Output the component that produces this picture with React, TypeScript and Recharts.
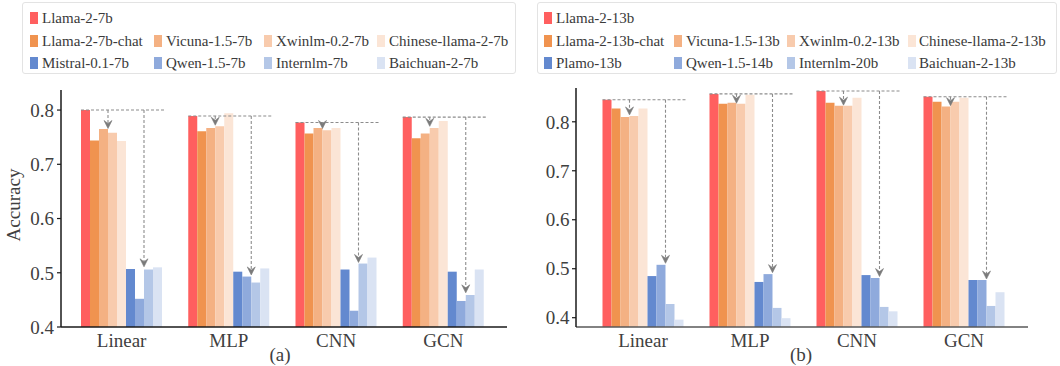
import React from 'react';
import { BarChart, Bar, XAxis, YAxis } from 'recharts';

const FONT = '"Liberation Serif", "Times New Roman", serif';

const categories = ['Linear', 'MLP', 'CNN', 'GCN'];

// (a) 7b models
const models7b = ['Llama-2-7b', 'Llama-2-7b-chat', 'Vicuna-1.5-7b', 'Xwinlm-0.2-7b', 'Chinese-llama-2-7b', 'Mistral-0.1-7b', 'Qwen-1.5-7b', 'Internlm-7b', 'Baichuan-2-7b'];
const llama7b = [0.800, 0.789, 0.777, 0.787];
const llama7bChat = [0.744, 0.761, 0.757, 0.748];
const vicuna7b = [0.765, 0.767, 0.767, 0.757];
const xwin7b = [0.758, 0.770, 0.763, 0.767];
const chinese7b = [0.743, 0.794, 0.767, 0.780];
const mistral7b = [0.507, 0.502, 0.506, 0.502];
const qwen7b = [0.452, 0.493, 0.430, 0.448];
const internlm7b = [0.506, 0.482, 0.517, 0.459];
const baichuan7b = [0.510, 0.508, 0.528, 0.506];
// where the dashed arrows end
const arrowA7b = [0.766, 0.772, 0.766, 0.770];
const arrowB7b = [0.511, 0.496, 0.519, 0.463];

// (b) 13b models
const models13b = ['Llama-2-13b', 'Llama-2-13b-chat', 'Vicuna-1.5-13b', 'Xwinlm-0.2-13b', 'Chinese-llama-2-13b', 'Plamo-13b', 'Qwen-1.5-14b', 'Internlm-20b', 'Baichuan-2-13b'];
const llama13b = [0.845, 0.857, 0.863, 0.851];
const llama13bChat = [0.827, 0.837, 0.839, 0.841];
const vicuna13b = [0.810, 0.839, 0.833, 0.831];
const xwin13b = [0.812, 0.837, 0.833, 0.841];
const chinese13b = [0.827, 0.855, 0.849, 0.849];
const plamo13b = [0.485, 0.473, 0.487, 0.477];
const qwen14b = [0.508, 0.489, 0.481, 0.477];
const internlm20b = [0.428, 0.420, 0.422, 0.424];
const baichuan13b = [0.396, 0.399, 0.413, 0.452];
const arrowA13b = [0.814, 0.838, 0.834, 0.833];
const arrowB13b = [0.511, 0.492, 0.484, 0.479];

const yTicks = [0.4, 0.5, 0.6, 0.7, 0.8];

const colors = ['#FF5F5F', '#F0934F', '#F4B183', '#F8CBAD', '#FBE5D6', '#6389CF', '#8FAADC', '#B4C7E7', '#DAE3F3'];

const buildRows = (series: number[][], arrowA: number[], arrowB: number[]) =>
  categories.map((name, i) => {
    const row: any = { name, arrowA: arrowA[i], arrowB: arrowB[i] };
    series.forEach((s, k) => { row[`s${k}`] = s[i]; });
    return row;
  });

const rows7b = buildRows([llama7b, llama7bChat, vicuna7b, xwin7b, chinese7b, mistral7b, qwen7b, internlm7b, baichuan7b], arrowA7b, arrowB7b);
const rows13b = buildRows([llama13b, llama13bChat, vicuna13b, xwin13b, chinese13b, plamo13b, qwen14b, internlm20b, baichuan13b], arrowA13b, arrowB13b);

// last bar of each group also draws the dashed reference line + arrows
const annotatedShape = (dMin: number) => (props: any) => {
  const { x, y, width, height, fill, payload } = props;
  const bottom = y + height;
  const v = payload.s8;
  const py = (val: number) => bottom - ((val - dMin) / (v - dMin)) * height;
  const x0 = x - 8 * width;
  const yTop = py(payload.s0);
  const arrow = (ax: number, val: number) => {
    const tip = py(val);
    return (
      <g>
        <line x1={ax} y1={yTop} x2={ax} y2={tip - 5} stroke="#8c8c8c" strokeWidth={1.1} strokeDasharray="3 2" />
        <path d={`M${ax - 4},${tip - 8} L${ax},${tip} L${ax + 4},${tip - 8} L${ax},${tip - 5} Z`} fill="#7a7a7a" stroke="#7a7a7a" strokeWidth={0.6} />
      </g>
    );
  };
  return (
    <g>
      <rect x={x} y={y} width={width} height={height} fill={fill} />
      <line x1={x0} y1={yTop} x2={x + width + 3} y2={yTop} stroke="#8c8c8c" strokeWidth={1.1} strokeDasharray="3 2" />
      {arrow(x0 + 3 * width, payload.arrowA)}
      {arrow(x0 + 7 * width, payload.arrowB)}
    </g>
  );
};

const tickStyle = { fontFamily: FONT, fontSize: 19, fill: '#404040' };

const Panel = ({ rows, domain, margin, yWidth, padding, xColor, yMargin }: any) => (
  <BarChart width={530} height={366} data={rows} margin={margin} barGap={0} barCategoryGap={13}>
    <XAxis
      dataKey="name"
      interval={0}
      height={30}
      padding={padding}
      tickLine={false}
      tickSize={0}
      tickMargin={7}
      axisLine={{ stroke: xColor, strokeWidth: 1.5 }}
      tick={tickStyle}
    />
    <YAxis
      type="number"
      domain={domain}
      ticks={yTicks}
      allowDataOverflow
      width={yWidth}
      tickSize={4}
      tickMargin={yMargin}
      tickFormatter={(v: number) => v.toFixed(1)}
      axisLine={{ stroke: '#1a1a1a', strokeWidth: 1.5 }}
      tickLine={{ stroke: '#1a1a1a', strokeWidth: 1.2 }}
      tick={tickStyle}
    />
    {colors.map((c, k) => (
      <Bar
        key={k}
        dataKey={`s${k}`}
        fill={c}
        isAnimationActive={false}
        shape={k === 8 ? annotatedShape(domain[0]) : undefined}
      />
    ))}
  </BarChart>
);

const Legend = ({ models, left, width, swatchX, textX }: any) => {
  const rowY = [16.5, 39.5, 61.5];
  const items = models.map((m: string, i: number) => {
    const row = i === 0 ? 0 : i < 5 ? 1 : 2;
    const col = i === 0 ? 0 : (i - 1) % 4;
    return { m, row, col, color: colors[i] };
  });
  return (
    <div style={{ position: 'absolute', left, top: 2, width, height: 72, border: '1px solid #e3e3e3', borderRadius: 3, boxSizing: 'border-box' }}>
      {items.map((it: any) => (
        <React.Fragment key={it.m}>
          <div style={{ position: 'absolute', left: swatchX[it.col] - left, top: rowY[it.row] - 6 - 2, width: 8, height: 12, background: it.color }} />
          <div style={{ position: 'absolute', left: textX[it.col] - left, top: rowY[it.row] - 9 - 2, lineHeight: '18px', fontFamily: FONT, fontSize: 15, color: '#3a3a3a', whiteSpace: 'nowrap' }}>
            {it.m}
          </div>
        </React.Fragment>
      ))}
    </div>
  );
};

const App = () => (
  <div style={{ position: 'absolute', left: 0, top: 0, width: 1060, height: 366, background: '#fff', overflow: 'hidden' }}>
    <Legend models={models7b} left={22} width={494} swatchX={[29, 153, 263, 376]} textX={[41, 165, 275, 388]} />
    <Legend models={models13b} left={537} width={520} swatchX={[543, 673, 786, 907]} textX={[555, 685, 798, 918]} />

    <div style={{ position: 'absolute', left: 0, top: 0 }}>
      <Panel
        rows={rows7b}
        domain={[0.4, 0.837]}
        margin={{ top: 90, right: 23, bottom: 9, left: 11 }}
        yWidth={50}
        padding={{ left: 7, right: 10 }}
        xColor="#1a1a1a"
        yMargin={3}
      />
    </div>
    <div style={{ position: 'absolute', left: 530, top: 0 }}>
      <Panel
        rows={rows13b}
        domain={[0.381, 0.869]}
        margin={{ top: 88, right: 32, bottom: 9, left: 6 }}
        yWidth={40}
        padding={{ left: 13.5, right: 10.5 }}
        xColor="#595959"
        yMargin={2.5}
      />
    </div>

    <div style={{ position: 'absolute', left: 14, top: 205, transform: 'translate(-50%, -50%) rotate(-90deg)', fontFamily: FONT, fontSize: 19, color: '#404040', whiteSpace: 'nowrap' }}>
      Accuracy
    </div>
    <div style={{ position: 'absolute', left: 280, top: 355, transform: 'translate(-50%, -50%)', fontFamily: FONT, fontSize: 19, color: '#404040' }}>(a)</div>
    <div style={{ position: 'absolute', left: 801, top: 355, transform: 'translate(-50%, -50%)', fontFamily: FONT, fontSize: 19, color: '#404040' }}>(b)</div>
  </div>
);

export default App;
